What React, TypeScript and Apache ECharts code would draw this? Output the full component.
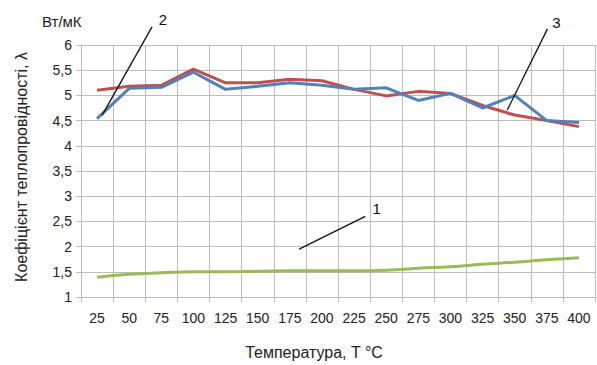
import React, { useEffect, useRef } from "react";
import * as echarts from "echarts";

const categories = ["25", "50", "75", "100", "125", "150", "175", "200", "225", "250", "275", "300", "325", "350", "375", "400"];
const series1Green = [1.39, 1.45, 1.48, 1.5, 1.5, 1.51, 1.52, 1.52, 1.52, 1.53, 1.57, 1.6, 1.65, 1.69, 1.74, 1.78];
const series2Blue = [4.54, 5.14, 5.16, 5.46, 5.12, 5.18, 5.25, 5.2, 5.12, 5.15, 4.9, 5.04, 4.75, 5.0, 4.5, 4.46];
const series3Red = [5.1, 5.18, 5.2, 5.52, 5.25, 5.25, 5.32, 5.29, 5.12, 4.99, 5.08, 5.04, 4.8, 4.61, 4.5, 4.38];

// annotation leaders in data coordinates: [category index, value]
const annotationLabels = ["1", "2", "3"];
const annotationFrom = [[6.29, 1.95], [0.16, 4.61], [12.77, 4.71]];
const annotationTo = [[8.35, 2.6], [1.71, 6.36], [14.02, 6.32]];
const annotationText = [[8.7, 2.76], [2.05, 6.5], [14.3, 6.44]];

const FONT = "Liberation Sans";

export default function App() {
  const ref = useRef<HTMLDivElement>(null);
  useEffect(() => {
    if (!ref.current) return;
    const chart = echarts.init(ref.current, null, { renderer: "svg" });
    const gridColor = "#bcbcbc";
    chart.setOption({
      animation: false,
      backgroundColor: "#ffffff",
      textStyle: { fontFamily: FONT },
      grid: { left: 81, right: 2, top: 45, bottom: 68 },
      title: {
        text: "Вт/мК",
        left: 37,
        top: 9,
        textStyle: { fontFamily: FONT, fontSize: 15, fontWeight: "normal", color: "#222" },
      },
      xAxis: {
        type: "category",
        data: categories,
        boundaryGap: true,
        name: "Температура, T °C",
        nameLocation: "middle",
        nameGap: 47,
        nameTextStyle: { fontFamily: FONT, fontSize: 16, color: "#222", padding: [0, 48, 0, 0] },
        axisLine: { lineStyle: { color: gridColor, width: 1 } },
        axisTick: { show: true, alignWithLabel: false, length: 5, lineStyle: { color: gridColor } },
        axisLabel: { fontFamily: FONT, fontSize: 14, color: "#222", margin: 14, interval: 0 },
        splitLine: { show: true, interval: 0, lineStyle: { color: gridColor, width: 1 } },
      },
      yAxis: {
        type: "value",
        min: 1,
        max: 6,
        interval: 0.5,
        name: "Коефіцієнт теплопровідності, λ",
        nameLocation: "middle",
        nameGap: 52,
        nameRotate: 90,
        nameTextStyle: { fontFamily: FONT, fontSize: 16, color: "#222", padding: [0, 0, 0, 8] },
        axisLine: { show: true, lineStyle: { color: gridColor, width: 1 } },
        axisTick: { show: true, length: 5, lineStyle: { color: gridColor } },
        axisLabel: {
          fontFamily: FONT,
          fontSize: 14,
          color: "#222",
          margin: 9,
          formatter: (v: number) => String(v).replace(".", ","),
        },
        splitLine: { show: true, lineStyle: { color: gridColor, width: 1 } },
      },
      series: [
        {
          name: "1",
          type: "line",
          data: series1Green,
          smooth: true,
          symbol: "none",
          lineStyle: { color: "#9BBB59", width: 3 },
          itemStyle: { color: "#9BBB59" },
        },
        {
          name: "2",
          type: "line",
          data: series2Blue,
          symbol: "none",
          lineStyle: { color: "#4F81BD", width: 3 },
          itemStyle: { color: "#4F81BD" },
          z: 3,
        },
        {
          name: "3",
          type: "line",
          data: series3Red,
          symbol: "none",
          lineStyle: { color: "#C0504D", width: 3 },
          itemStyle: { color: "#C0504D" },
          z: 2,
        },
      ],
    });

    const x0 = chart.convertToPixel({ xAxisIndex: 0 }, categories[0]) as number;
    const x1 = chart.convertToPixel({ xAxisIndex: 0 }, categories[1]) as number;
    const step = x1 - x0;
    const px = (p: number[]) => [x0 + p[0] * step, chart.convertToPixel({ yAxisIndex: 0 }, p[1]) as number];

    const graphic: any[] = [];
    annotationLabels.forEach((label, i) => {
      const a = px(annotationFrom[i]);
      const b = px(annotationTo[i]);
      const t = px(annotationText[i]);
      graphic.push({
        type: "line",
        shape: { x1: a[0], y1: a[1], x2: b[0], y2: b[1] },
        style: { stroke: "#111", lineWidth: 1.3 },
        z: 10,
      });
      graphic.push({
        type: "text",
        x: t[0],
        y: t[1],
        style: {
          text: label,
          fontFamily: FONT,
          fontSize: 15,
          fill: "#111",
          align: "center",
          verticalAlign: "middle",
        },
        z: 10,
      });
    });
    chart.setOption({ graphic });

    return () => chart.dispose();
  }, []);
  return <div ref={ref} style={{ position: "fixed", left: 0, top: 0, width: 597, height: 365 }} />;
}
